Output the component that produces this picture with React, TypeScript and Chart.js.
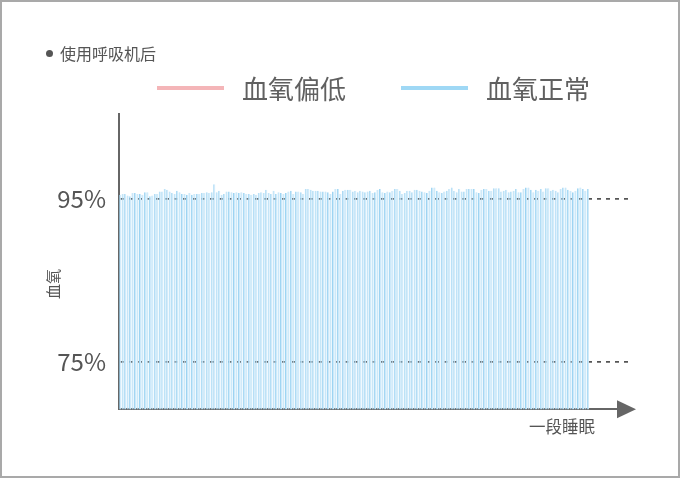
import { useEffect, useRef } from "react"
import { Chart, registerables } from "chart.js"

Chart.register(...registerables)

// blood oxygen per sample (%)
const spo2 = [
  95.5, 95.6, 95.6, 95.4, 95.3, 95.7, 95.7, 95.6, 95.6, 95.5,
  95.8, 95.8, 95.3, 95.4, 95.6, 95.6, 95.9, 95.9, 96.2, 96.1,
  95.9, 95.7, 95.6, 96.0, 95.8, 95.6, 95.6, 95.5, 95.7, 95.5,
  95.6, 95.6, 95.6, 95.7, 95.7, 95.8, 95.7, 95.8, 96.8, 95.8,
  96.0, 95.5, 95.6, 95.9, 95.9, 95.8, 95.7, 95.8, 95.7, 95.8,
  95.7, 95.6, 95.6, 95.5, 95.6, 95.5, 95.7, 95.8, 95.7, 96.1,
  95.7, 95.6, 96.0, 95.6, 95.8, 95.7, 95.6, 95.7, 95.9, 96.0,
  95.6, 95.9, 95.9, 95.8, 95.6, 96.2, 96.2, 96.1, 96.0, 96.0,
  96.0, 95.9, 95.9, 95.9, 95.8, 95.6, 95.9, 96.2, 96.2, 95.6,
  96.0, 96.1, 96.1, 96.1, 95.9, 96.0, 95.8, 96.0, 95.9, 95.8,
  95.9, 96.0, 95.7, 95.8, 96.1, 96.2, 95.8, 95.7, 95.9, 95.8,
  96.0, 96.2, 96.2, 96.0, 95.6, 95.7, 96.0, 96.0, 95.8, 96.1,
  96.1, 96.0, 95.9, 95.8, 95.7, 96.0, 96.4, 96.4, 96.0, 95.8,
  95.7, 95.9, 96.0, 96.2, 96.4, 96.0, 95.8, 96.2, 95.9, 95.9,
  96.2, 96.2, 96.2, 96.2, 95.8, 95.7, 96.1, 96.2, 96.2, 96.0,
  96.0, 96.3, 96.3, 96.3, 95.9, 96.0, 96.1, 95.8, 95.9, 96.0,
  96.2, 95.8, 95.8, 96.2, 96.4, 96.4, 96.1, 95.8, 96.1, 96.0,
  96.2, 95.9, 96.3, 96.3, 96.0, 96.1, 96.0, 95.8, 96.2, 96.4,
  96.4, 96.1, 96.0, 95.8, 96.0, 96.3, 96.4, 96.2, 96.0, 96.2,
]

const yTicks = [75, 95]
const legendLabels = ["血氧偏低", "血氧正常"]
const legendColors = ["#f4b5b8", "#9fd8f5"]

const FONT = "'Noto Sans CJK SC', 'Noto Sans', sans-serif"

// arrow head at the right end of the x axis
const arrowPlugin = {
  id: "xArrow",
  afterDraw(chart: Chart) {
    const { ctx, chartArea } = chart
    const { right, bottom } = chartArea
    ctx.save()
    ctx.fillStyle = "#666"
    ctx.beginPath()
    ctx.moveTo(right - 11, bottom - 9)
    ctx.lineTo(right + 8, bottom)
    ctx.lineTo(right - 11, bottom + 9)
    ctx.closePath()
    ctx.fill()
    ctx.restore()
  },
}

export default function App() {
  const chartRef = useRef<HTMLCanvasElement>(null)
  const chartInstance = useRef<Chart | null>(null)

  useEffect(() => {
    if (!chartRef.current) return
    if (chartInstance.current) chartInstance.current.destroy()

    chartInstance.current = new Chart(chartRef.current, {
      type: "bar",
      data: {
        datasets: [
          {
            label: legendLabels[1],
            data: spo2.map((v, i) => ({ x: i, y: v })),
            backgroundColor: "#cde9fa",
            borderColor: "#9dd4f2",
            borderWidth: { left: 1, right: 0, top: 0, bottom: 0 },
            borderSkipped: false,
            barPercentage: 0.85,
            categoryPercentage: 1,
          },
        ],
      },
      options: {
        animation: false,
        responsive: true,
        maintainAspectRatio: false,
        layout: { padding: { top: 114, left: 44, right: 52, bottom: 41 } },
        plugins: {
          legend: { display: false },
          tooltip: { enabled: false },
        },
        scales: {
          x: {
            type: "linear",
            min: -0.5,
            max: 205.2,
            offset: false,
            z: 1,
            grid: { display: false, drawTicks: false },
            ticks: { display: false },
            border: { display: true, color: "#666", width: 2 },
            title: {
              display: true,
              text: "一段睡眠　　",
              align: "end",
              color: "#555",
              font: { family: FONT, size: 16.5 },
              padding: { top: 8, bottom: 0 },
            },
          },
          y: {
            min: 69.2,
            max: 105.4,
            z: 1,
            afterFit: (scale) => {
              scale.width = 75
            },
            afterBuildTicks: (scale) => {
              scale.ticks = yTicks.map((v) => ({ value: v }))
            },
            grid: { color: "#555", lineWidth: 1.8, drawTicks: false },
            border: { display: true, color: "#666", width: 2, dash: [4, 5] },
            ticks: {
              padding: 13,
              color: "#555",
              font: { family: FONT, size: 24 },
              callback: (value) => `${value}%`,
            },
            title: {
              display: true,
              text: "血氧　　　",
              color: "#555",
              font: { family: FONT, size: 15 },
              padding: 0,
            },
          },
        },
      },
      plugins: [arrowPlugin],
    })

    return () => {
      if (chartInstance.current) {
        chartInstance.current.destroy()
        chartInstance.current = null
      }
    }
  }, [])

  return (
    <div style={{ position: "fixed", left: 0, top: 0, width: 680, height: 478, background: "#fff", fontFamily: FONT }}>
      <canvas ref={chartRef}></canvas>
      <div style={{ position: "absolute", left: 46, top: 43, height: 20, display: "flex", alignItems: "center", color: "#555", fontSize: 16 }}>
        <span style={{ width: 7, height: 7, borderRadius: "50%", background: "#555", marginRight: 7 }}></span>
        <span>使用呼吸机后</span>
      </div>
      <div style={{ position: "absolute", left: 157, top: 72, height: 32, display: "flex", alignItems: "center", color: "#606060", fontSize: 26 }}>
        {legendLabels.map((label, i) => (
          <div key={label} style={{ display: "flex", alignItems: "center", marginRight: i === 0 ? 55 : 0 }}>
            <span style={{ width: 67, height: 4, background: legendColors[i], marginRight: 18 }}></span>
            <span style={{ lineHeight: "32px" }}>{label}</span>
          </div>
        ))}
      </div>
      <div style={{ position: "absolute", inset: 0, border: "2px solid #a9a9a9", pointerEvents: "none" }}></div>
    </div>
  )
}
